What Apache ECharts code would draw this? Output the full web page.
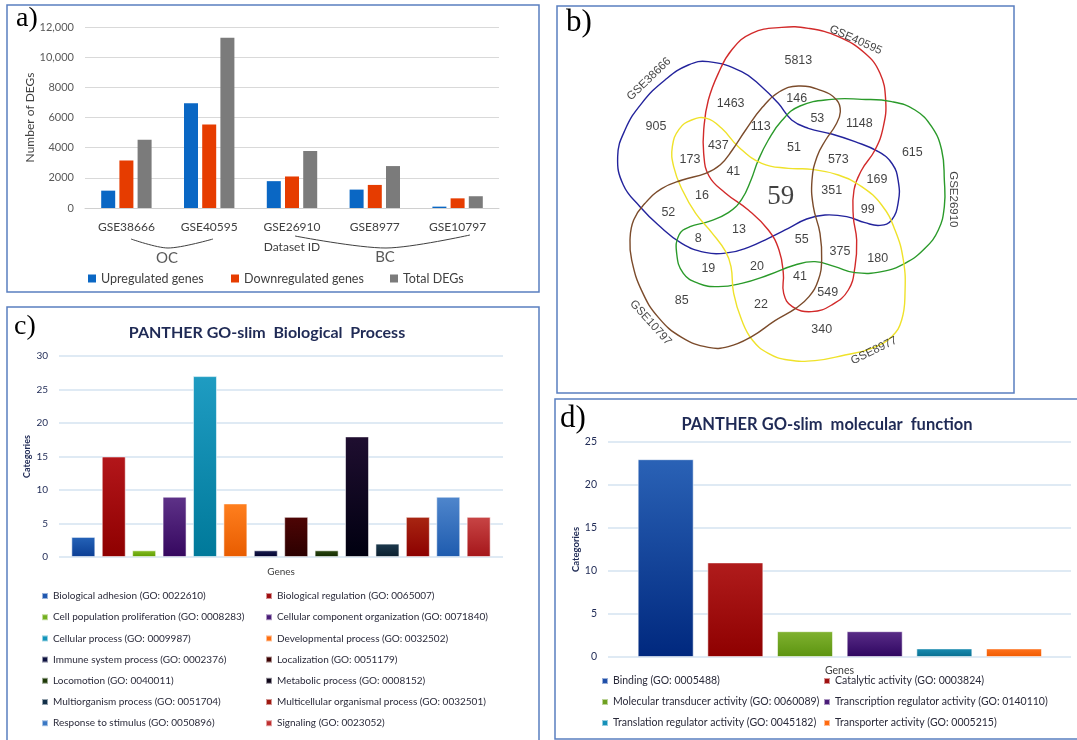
<!DOCTYPE html>
<html>
<head>
<meta charset="utf-8">
<script src="https://cdn.jsdelivr.net/npm/echarts@6/dist/echarts.min.js"></script>
<style>
  html, body { margin: 0; padding: 0; background: #ffffff; }
  #chart { width: 1077px; height: 740px; }
</style>
</head>
<body>
<div id="chart"></div>
<script>
// ---------- data ----------
// a) differentially expressed genes per dataset
const datasetIds = ['GSE38666', 'GSE40595', 'GSE26910', 'GSE8977', 'GSE10797'];
const upregulated = [1150, 6950, 1780, 1220, 90];
const downregulated = [3150, 5530, 2090, 1530, 640];
const totalDEGs = [4530, 11290, 3780, 2780, 780];
const degSeriesNames = ['Upregulated genes', 'Downregulated genes', 'Total DEGs'];
const groupLabels = ['OC', 'BC'];

// b) five-set Venn diagram: set names and region counts
const vennSetNames = ['GSE38666', 'GSE40595', 'GSE26910', 'GSE8977', 'GSE10797'];
const vennCounts = [5813, 1463, 146, 905, 113, 53, 1148, 437, 173, 51, 573, 615, 41, 169, 16,
                    59, 351, 99, 52, 13, 8, 55, 375, 180, 19, 20, 41, 549, 85, 22, 340];

// c) PANTHER GO-slim biological process
const bpNames = [
  'Biological adhesion (GO: 0022610)', 'Biological regulation (GO: 0065007)',
  'Cell population proliferation (GO: 0008283)', 'Cellular component organization (GO: 0071840)',
  'Cellular process (GO: 0009987)', 'Developmental process (GO: 0032502)',
  'Immune system process (GO: 0002376)', 'Localization (GO: 0051179)',
  'Locomotion (GO: 0040011)', 'Metabolic process (GO: 0008152)',
  'Multiorganism process (GO: 0051704)', 'Multicellular organismal process (GO: 0032501)',
  'Response to stimulus (GO: 0050896)', 'Signaling (GO: 0023052)'
];
const bpValues = [3, 15, 1, 9, 27, 8, 1, 6, 1, 18, 2, 6, 9, 6];

// d) PANTHER GO-slim molecular function
const mfNames = [
  'Binding (GO: 0005488)', 'Catalytic activity (GO: 0003824)',
  'Molecular transducer activity (GO: 0060089)', 'Transcription regulator activity (GO: 0140110)',
  'Translation regulator activity (GO: 0045182)', 'Transporter activity (GO: 0005215)'
];
const mfValues = [23, 11, 3, 3, 1, 1];

// ---------- layout & styling ----------
// Venn frame uses a 1560 x 1170 coordinate space laid over panel b
const vennOutlines = [
  // GSE38666 (blue)
  [[460,185],[560,215],[620,260],[670,310],[710,360],[760,385],[830,402],[900,425],[970,455],[1012,492],
   [1030,545],[1030,605],[1010,660],[975,676],[930,668],[875,650],[810,645],[755,657],[700,685],[640,715],
   [580,742],[520,758],[450,757],[380,730],[310,675],[255,620],[205,555],[188,470],[210,390],[260,310],
   [330,240],[400,195]],
  // GSE40595 (red)
  [[680,82],[760,85],[850,110],[930,160],[975,220],[992,300],[985,380],[960,450],[920,510],[897,570],
   [895,650],[905,720],[900,800],[880,870],[830,915],[770,935],[712,920],[686,880],[685,820],[672,750],
   [640,690],[580,630],[510,578],[462,528],[446,460],[447,380],[460,300],[490,220],[530,150],[590,100]],
  // GSE26910 (green)
  [[830,298],[920,298],[1010,305],[1080,330],[1130,380],[1160,450],[1168,540],[1168,620],[1150,690],
   [1110,745],[1050,790],[980,815],[900,818],[840,800],[780,785],[720,795],[640,825],[560,850],[490,860],
   [430,850],[385,820],[365,760],[372,705],[405,680],[460,665],[520,638],[560,598],[588,540],[610,480],
   [640,420],[680,362],[735,318]],
  // GSE8977 (yellow)
  [[455,355],[500,385],[550,440],[620,490],[700,505],[770,508],[850,525],[920,560],[980,615],[1020,690],
   [1045,780],[1050,880],[1040,960],[1010,1010],[950,1045],[870,1065],[780,1082],[700,1080],[640,1060],
   [592,1020],[560,960],[536,880],[528,800],[512,755],[472,700],[422,640],[382,570],[356,500],[352,440],
   [372,388],[410,360]],
  // GSE10797 (brown)
  [[730,258],[800,272],[845,300],[856,335],[842,375],[812,420],[786,470],[771,540],[775,620],[795,700],
   [800,780],[790,840],[762,890],[722,925],[660,962],[590,1010],[520,1040],[460,1042],[380,1012],
   [310,952],[260,872],[230,780],[225,720],[236,660],[270,610],[320,566],[382,540],[452,520],[496,494],
   [532,450],[572,390],[622,322],[672,276]]
];
const vennColors = ['#23239c', '#d22a2a', '#2a9a2a', '#efe22a', '#7b4b2b'];
const vennSetLabelPos = [[282,237], [902,120], [1196,598], [957,1052], [287,968]];
const vennSetLabelRotate = [44, -24, -90, 26, -48];
const vennCountPos = [
  [730,183],[527,310],[725,295],[303,380],[617,380],[787,355],[913,372],[490,437],[405,478],[717,442],
  [850,478],[1072,457],[535,515],[966,538],[441,588],[677,590],[830,572],[938,630],[340,638],[552,690],
  [430,717],[740,720],[855,755],[968,777],[460,807],[606,800],[735,830],[818,878],[380,903],[618,915],
  [800,988]
];
const vennCoreIndex = 15; // region shared by all five sets

const degColors = ['#0a67c4', '#e63c00', '#7b7b7b'];
const bpGradients = [
  ['#2563b8', '#0b3e94'], ['#b3161a', '#8e0000'], ['#86be24', '#5c9a00'], ['#5e3288', '#35075f'],
  ['#1f9cc2', '#00799a'], ['#ff7f1e', '#e85c00'], ['#1a1f50', '#00002e'], ['#4e0505', '#2b0000'],
  ['#2d4a12', '#0f2600'], ['#1f0e30', '#000010'], ['#1d3a4e', '#0a1e2e'], ['#a82612', '#8c0000'],
  ['#4f86cc', '#1e5bae'], ['#c84545', '#a5161a']
];
const bpLegendColors = ['#1f58b0', '#a00e10', '#74b020', '#4a1c78', '#1395bb', '#ff6f10', '#0e1240',
  '#3c0000', '#1e3a08', '#0d0418', '#123048', '#9e1810', '#3a78c4', '#bf3030'];
const mfGradients = [
  ['#2a62b6', '#00287e'], ['#b01c1c', '#8e0000'], ['#80b230', '#5c9410'],
  ['#5a2d88', '#2e0660'], ['#1a8db2', '#076e90'], ['#ff7420', '#f05a00']
];
const mfLegendColors = ['#1f4fa8', '#a01010', '#6ea020', '#4a1c78', '#1590b8', '#ff6a10'];

const UI_FONT = 'Lato, "Noto Sans", sans-serif';
const NAVY = '#1f2a55';
const BORDER = '#5a7fc0';

function vGrad(stops) {
  return { type: 'linear', x: 0, y: 0, x2: 0, y2: 1,
           colorStops: [{ offset: 0, color: stops[0] }, { offset: 1, color: stops[1] }] };
}

const chart = echarts.init(document.getElementById('chart'), null, { renderer: 'canvas' });

// ---------- series ----------
const series = [];

// a) grouped bars
[upregulated, downregulated, totalDEGs].forEach((vals, k) => {
  series.push({
    type: 'bar', name: degSeriesNames[k], xAxisIndex: 0, yAxisIndex: 0,
    data: vals, barWidth: 14, barGap: '30%',
    itemStyle: { color: degColors[k] }
  });
});

// b) Venn outlines
series.push({
  type: 'custom', name: 'venn-outline', xAxisIndex: 1, yAxisIndex: 1, silent: true,
  data: vennSetNames.map((n, i) => vennOutlines[i][0]),
  renderItem: function (params, api) {
    const i = params.dataIndex;
    const pts = vennOutlines[i].map(p => api.coord(p));
    return {
      type: 'polygon',
      shape: { points: pts, smooth: 0.45 },
      style: { fill: 'transparent', stroke: vennColors[i], lineWidth: 1.4 }
    };
  }
});
// b) region counts
series.push({
  type: 'scatter', name: 'venn-counts', xAxisIndex: 1, yAxisIndex: 1, silent: true,
  symbolSize: 0,
  data: vennCounts.map((c, i) => {
    const item = { value: [vennCountPos[i][0], vennCountPos[i][1], c] };
    if (i === vennCoreIndex) {
      item.label = { fontSize: 27, fontFamily: '"Liberation Serif", "DejaVu Serif", serif' };
    }
    return item;
  }),
  label: {
    show: true, position: 'inside', formatter: p => String(p.value[2]),
    color: '#111', fontSize: 12.5, fontFamily: '"Liberation Sans", Arial, sans-serif'
  }
});
// b) set names
series.push({
  type: 'scatter', name: 'venn-sets', xAxisIndex: 1, yAxisIndex: 1, silent: true,
  symbolSize: 0,
  data: vennSetNames.map((n, i) => ({
    name: n, value: vennSetLabelPos[i],
    label: { rotate: vennSetLabelRotate[i] }
  })),
  label: {
    show: true, position: 'inside', formatter: p => p.name,
    color: '#111', fontSize: 11.5, fontFamily: '"Liberation Sans", Arial, sans-serif'
  }
});

// c) biological process bars (one series per category so each gets a legend entry)
bpValues.forEach((v, i) => {
  series.push({
    type: 'bar', name: bpNames[i], xAxisIndex: 2, yAxisIndex: 2,
    data: [[i, v]], barWidth: 24, barGap: '-100%',
    itemStyle: { color: vGrad(bpGradients[i]), borderColor: 'rgba(255,255,255,0.55)', borderWidth: 1 }
  });
});

// d) molecular function bars
mfValues.forEach((v, i) => {
  series.push({
    type: 'bar', name: mfNames[i], xAxisIndex: 3, yAxisIndex: 3,
    data: [[i, v]], barWidth: 56, barGap: '-100%',
    itemStyle: { color: vGrad(mfGradients[i]), borderColor: 'rgba(255,255,255,0.55)', borderWidth: 1 }
  });
});

// ---------- legends ----------
const legends = [];
const degLegendLeft = [88, 231, 390];
degSeriesNames.forEach((n, k) => {
  legends.push({
    data: [n], left: degLegendLeft[k], top: 272, padding: 0, icon: 'rect', itemWidth: 8, itemHeight: 8,
    selectedMode: false,
    textStyle: { fontFamily: UI_FONT, fontSize: 12.5, color: '#404040' }
  });
});
function columnLegend(names, colors, idxs, left, top, gap, fontSize) {
  return {
    orient: 'vertical', left: left, top: top, padding: 0, icon: 'rect', itemWidth: 6, itemHeight: 6,
    itemGap: gap, selectedMode: false,
    data: idxs.map(i => ({ name: names[i], itemStyle: { color: colors[i] } })),
    textStyle: { fontFamily: UI_FONT, fontSize: fontSize, lineHeight: 12, color: '#2a2a3a' }
  };
}
legends.push(columnLegend(bpNames, bpLegendColors, [0, 2, 4, 6, 8, 10, 12], 41, 590, 9.2, 10));
legends.push(columnLegend(bpNames, bpLegendColors, [1, 3, 5, 7, 9, 11, 13], 265, 590, 9.2, 10));
legends.push(columnLegend(mfNames, mfLegendColors, [0, 2, 4], 601, 675, 9, 10.5));
legends.push(columnLegend(mfNames, mfLegendColors, [1, 3, 5], 823, 675, 9, 10.5));

// ---------- decorations ----------
const serif = '"Liberation Serif", "DejaVu Serif", serif';
const graphic = [
  // panel frames
  { type: 'rect', shape: { x: 7, y: 5, width: 532, height: 287 }, style: { fill: 'none', stroke: BORDER, lineWidth: 1.5 }, silent: true },
  { type: 'rect', shape: { x: 557, y: 6, width: 457, height: 387 }, style: { fill: 'none', stroke: BORDER, lineWidth: 1.5 }, silent: true },
  { type: 'rect', shape: { x: 7, y: 307, width: 532, height: 434 }, style: { fill: 'none', stroke: BORDER, lineWidth: 1.5 }, silent: true },
  { type: 'rect', shape: { x: 555, y: 399, width: 530, height: 340 }, style: { fill: 'none', stroke: BORDER, lineWidth: 1.5 }, silent: true },
  // panel letters
  { type: 'text', left: 16, top: 5, style: { text: 'a)', font: '28px ' + serif, fill: '#000' } },
  { type: 'text', left: 566, top: 7, style: { text: 'b)', font: '31px ' + serif, fill: '#000' } },
  { type: 'text', left: 14, top: 313, style: { text: 'c)', font: '28px ' + serif, fill: '#000' } },
  { type: 'text', left: 560, top: 403, style: { text: 'd)', font: '31px ' + serif, fill: '#000' } },
  // OC / BC grouping braces under panel a
  { type: 'polyline', shape: { points: [[131, 239], [168, 248], [213, 239]], smooth: 0.3 }, style: { stroke: '#404040', lineWidth: 1, fill: 'none' }, silent: true },
  { type: 'polyline', shape: { points: [[295, 236], [386, 248], [470, 235]], smooth: 0.3 }, style: { stroke: '#404040', lineWidth: 1, fill: 'none' }, silent: true },
  { type: 'text', x: 167, y: 258, style: { text: groupLabels[0], font: '15px ' + UI_FONT, fill: '#595959', align: 'center', verticalAlign: 'middle' } },
  { type: 'text', x: 385, y: 257, style: { text: groupLabels[1], font: '15px ' + UI_FONT, fill: '#595959', align: 'center', verticalAlign: 'middle' } }
];

// ---------- option ----------
const option = {
  backgroundColor: '#ffffff',
  animation: false,
  title: [
    { text: 'PANTHER GO-slim  Biological  Process', left: 262, top: 320, textAlign: 'center',
      textStyle: { fontFamily: UI_FONT, fontSize: 16, fontWeight: 'bold', color: NAVY } },
    { text: 'PANTHER GO-slim  molecular  function', left: 822, top: 411, textAlign: 'center',
      textStyle: { fontFamily: UI_FONT, fontSize: 16.5, fontWeight: 'bold', color: NAVY } }
  ],
  legend: legends,
  grid: [
    { left: 85, top: 27, width: 414, height: 181 },
    { left: 555, top: 0, width: 520, height: 390 },
    { left: 59, top: 356, width: 444, height: 201 },
    { left: 608, top: 442, width: 463, height: 215 }
  ],
  xAxis: [
    { gridIndex: 0, type: 'category', data: datasetIds,
      axisLine: { lineStyle: { color: '#d0d0d0' } }, axisTick: { show: false },
      axisLabel: { fontFamily: UI_FONT, fontSize: 12, color: '#404040', margin: 13 },
      name: 'Dataset ID', nameLocation: 'middle', nameGap: 33,
      nameTextStyle: { fontFamily: UI_FONT, fontSize: 12, color: '#404040' } },
    { gridIndex: 1, type: 'value', min: 0, max: 1560, show: false },
    { gridIndex: 2, type: 'value', min: -0.8, max: 13.8, axisLabel: { show: false }, axisTick: { show: false },
      axisLine: { show: false }, splitLine: { show: false },
      name: 'Genes', nameLocation: 'middle', nameGap: 10,
      nameTextStyle: { fontFamily: UI_FONT, fontSize: 10, color: '#404040' } },
    { gridIndex: 3, type: 'value', min: -0.828, max: 5.818, axisLabel: { show: false }, axisTick: { show: false },
      axisLine: { show: false }, splitLine: { show: false },
      name: 'Genes', nameLocation: 'middle', nameGap: 8,
      nameTextStyle: { fontFamily: UI_FONT, fontSize: 10.5, color: '#404040' } }
  ],
  yAxis: [
    { gridIndex: 0, type: 'value', min: 0, max: 12000, interval: 2000,
      axisLine: { show: false }, axisTick: { show: false },
      splitLine: { lineStyle: { color: '#d9d9d9' } },
      axisLabel: { fontFamily: UI_FONT, fontSize: 11, color: '#595959', margin: 11,
        formatter: v => (v >= 10000 ? v.toLocaleString('en-US') : String(v)) },
      name: 'Number of DEGs', nameLocation: 'middle', nameGap: 44,
      nameTextStyle: { fontFamily: UI_FONT, fontSize: 12, color: '#404040' } },
    { gridIndex: 1, type: 'value', min: 0, max: 1170, inverse: true, show: false },
    { gridIndex: 2, type: 'value', min: 0, max: 30, interval: 5,
      axisLine: { show: false }, axisTick: { show: false },
      splitLine: { lineStyle: { color: '#d5e3f1', width: 1.5 } },
      axisLabel: { fontFamily: UI_FONT, fontSize: 10, color: NAVY, margin: 11 },
      name: 'Categories', nameLocation: 'middle', nameGap: 27,
      nameTextStyle: { fontFamily: UI_FONT, fontSize: 9, fontWeight: 'bold', color: NAVY } },
    { gridIndex: 3, type: 'value', min: 0, max: 25, interval: 5,
      axisLine: { show: false }, axisTick: { show: false },
      splitLine: { lineStyle: { color: '#d5e3f1', width: 1.5 } },
      axisLabel: { fontFamily: UI_FONT, fontSize: 10.5, color: NAVY, margin: 11 },
      name: 'Categories', nameLocation: 'middle', nameGap: 27,
      nameTextStyle: { fontFamily: UI_FONT, fontSize: 9.5, fontWeight: 'bold', color: NAVY } }
  ],
  series: series,
  graphic: graphic
};

chart.setOption(option);
</script>
</body>
</html>
